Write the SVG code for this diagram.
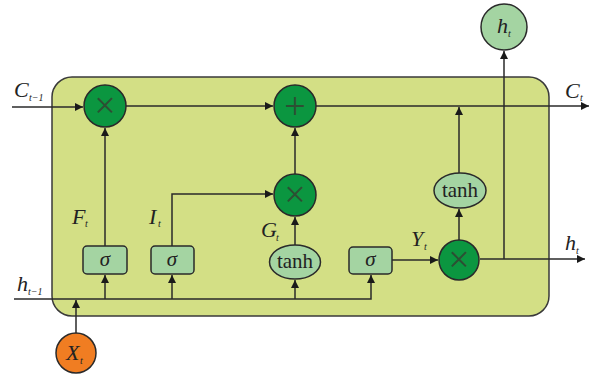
<svg xmlns="http://www.w3.org/2000/svg" width="593" height="374" viewBox="0 0 593 374">
<defs>
<marker id="ar" viewBox="0 0 10 10" refX="10" refY="5" markerWidth="8" markerHeight="8" markerUnits="userSpaceOnUse" orient="auto">
<path d="M0,0 L10,5 L0,10 z" fill="#1a1a1a"/>
</marker>
<style>
.ln{stroke:#2a2a2a;stroke-width:1.5;fill:none}
.op{fill:#0b9640;stroke:#2a2a2a;stroke-width:1.5}
.gate{fill:#a4d4a2;stroke:#2a2a2a;stroke-width:1.5}
.sym{font-family:"Liberation Serif",serif;font-size:38px;fill:#2d4f33;text-anchor:middle}
.lbl{font-family:"Liberation Serif",serif;font-style:italic;font-size:22px;fill:#222}
.sub{font-family:"Liberation Serif",serif;font-style:italic;font-size:10px;fill:#222}
.gt{font-family:"Liberation Serif",serif;font-size:21px;fill:#222;text-anchor:middle}
</style>
</defs>
<rect width="593" height="374" fill="#fff"/>
<g id="cell"><rect x="52" y="77" width="497" height="239" rx="20" fill="#d3df85" stroke="#3a3a3a" stroke-width="1.5"/></g>
<g id="connectors">
<path class="ln" d="M12,107 H83" marker-end="url(#ar)"/>
<path class="ln" d="M126,106 H273" marker-end="url(#ar)"/>
<path class="ln" d="M316,106 H589" marker-end="url(#ar)"/>
<path class="ln" d="M105,246 V128" marker-end="url(#ar)"/>
<path class="ln" d="M172,246 V194 H273" marker-end="url(#ar)"/>
<path class="ln" d="M295,174 V128" marker-end="url(#ar)"/>
<path class="ln" d="M295,245 V217" marker-end="url(#ar)"/>
<path class="ln" d="M14,299 H371 V275" marker-end="url(#ar)"/>
<path class="ln" d="M105,299 V275" marker-end="url(#ar)"/>
<path class="ln" d="M172,299 V275" marker-end="url(#ar)"/>
<path class="ln" d="M295,299 V280" marker-end="url(#ar)"/>
<path class="ln" d="M76,333 V300" marker-end="url(#ar)"/>
<path class="ln" d="M392,260 H438" marker-end="url(#ar)"/>
<path class="ln" d="M459,240 V209" marker-end="url(#ar)"/>
<path class="ln" d="M459,173 V107" marker-end="url(#ar)"/>
<path class="ln" d="M480,259 H585" marker-end="url(#ar)"/>
<path class="ln" d="M504,259 V51" marker-end="url(#ar)"/>
</g>
<g id="mul1"><circle class="op" cx="105" cy="106" r="21"/><text class="sym" x="105" y="118">×</text></g>
<g id="add"><circle class="op" cx="295" cy="106" r="21"/><text class="sym" x="295" y="119" font-size="34">+</text></g>
<g id="mul2"><circle class="op" cx="295" cy="195" r="21"/><text class="sym" x="295" y="207">×</text></g>
<g id="mul3"><circle class="op" cx="459" cy="260" r="20"/><text class="sym" x="459" y="272">×</text></g>
<g id="sig1"><rect class="gate" x="83" y="246" width="44" height="28" rx="4"/><text class="gt" x="105" y="266" font-style="italic">σ</text></g>
<g id="sig2"><rect class="gate" x="151" y="246" width="43" height="28" rx="4"/><text class="gt" x="172" y="266" font-style="italic">σ</text></g>
<g id="tanh1"><ellipse class="gate" cx="295" cy="262" rx="25.5" ry="17"/><text class="gt" x="295" y="268">tanh</text></g>
<g id="sig3"><rect class="gate" x="349" y="247" width="43" height="27" rx="4"/><text class="gt" x="370.5" y="266" font-style="italic">σ</text></g>
<g id="tanh2"><ellipse class="gate" cx="460" cy="190.5" rx="26" ry="17.5"/><text class="gt" x="460" y="197">tanh</text></g>
<g id="ht_out"><circle class="gate" cx="504" cy="27" r="23"/><text class="lbl" x="497" y="33" font-size="19">h</text><text class="sub" x="508" y="37">t</text></g>
<g id="xt"><circle cx="76" cy="353" r="20" fill="#f07d22" stroke="#2a2a2a" stroke-width="1.5"/><text class="lbl" x="66" y="360">X</text><text class="sub" x="80" y="364">t</text></g>
<g id="labels">
<text class="lbl" x="14" y="97">C</text><text class="sub" x="29" y="101">t−1</text>
<text class="lbl" x="565" y="98">C</text><text class="sub" x="580" y="101">t</text>
<text class="lbl" x="17" y="291">h</text><text class="sub" x="28" y="295">t−1</text>
<text class="lbl" x="565" y="250">h</text><text class="sub" x="576" y="254">t</text>
<text class="lbl" x="72" y="224">F</text><text class="sub" x="85" y="227">t</text>
<text class="lbl" x="149" y="224">I</text><text class="sub" x="158" y="227">t</text>
<text class="lbl" x="261" y="237">G</text><text class="sub" x="276" y="241">t</text>
<text class="lbl" x="411" y="246">Y</text><text class="sub" x="424" y="250">t</text>
</g>
</svg>
